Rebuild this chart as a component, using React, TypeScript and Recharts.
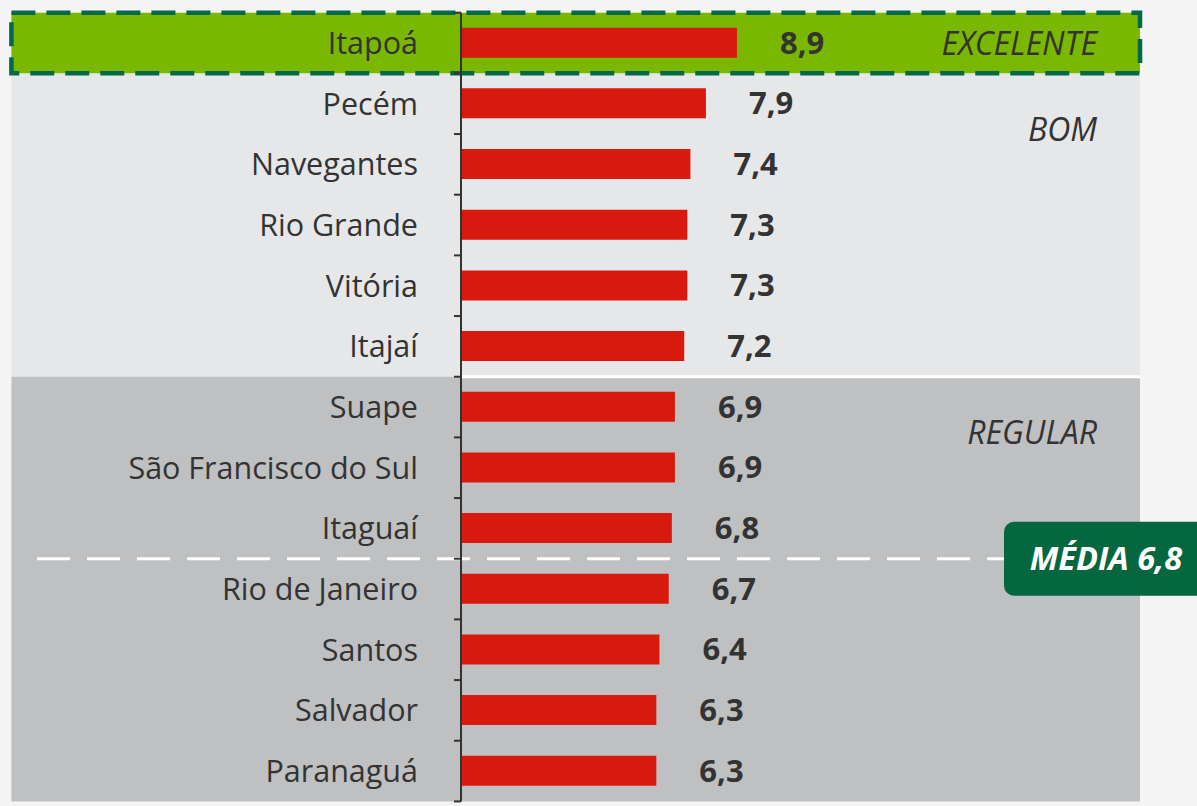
import React from 'react';
import {
  BarChart,
  Bar,
  XAxis,
  YAxis,
  ReferenceArea,
  ReferenceLine,
  LabelList,
} from 'recharts';

// portos e notas
const portos = [
  'Itapoá',
  'Pecém',
  'Navegantes',
  'Rio Grande',
  'Vitória',
  'Itajaí',
  'Suape',
  'São Francisco do Sul',
  'Itaguaí',
  'Rio de Janeiro',
  'Santos',
  'Salvador',
  'Paranaguá',
];
const notas = [8.9, 7.9, 7.4, 7.3, 7.3, 7.2, 6.9, 6.9, 6.8, 6.7, 6.4, 6.3, 6.3];

const faixas = ['BOM', 'REGULAR', 'EXCELENTE'];
const faixaInicio = ['Pecém', 'Suape', 'Itapoá'];
const faixaFim = ['Itajaí', 'Paranaguá', 'Itapoá'];

const media = 6.8;
const mediaDepoisDe = 'Itaguaí';

const data = portos.map((nome, i) => ({ nome, nota: notas[i] }));

// layout
const W = 1197;
const H = 806;
const TOP = 12.7;
const BOTTOM = 4.6;
const LEFT = 12;
const PLOT_LEFT = 461;
const PLOT_RIGHT = 1140;
const X_MAX = 21.9;
const PX = (PLOT_RIGHT - PLOT_LEFT) / X_MAX;
const toUnits = (px: number) => (px - PLOT_LEFT) / PX;
const ROW = (H - TOP - BOTTOM) / portos.length;
const TICK_GAP = 43;
const FONT = "'Open Sans', 'Noto Sans', sans-serif";
const TEXT = '#333333';

const faixaCor: Record<string, string> = {
  EXCELENTE: '#7ab800',
  BOM: '#e6e7e9',
  REGULAR: '#bfc0c2',
};
const faixaDy: Record<string, number> = {
  EXCELENTE: ROW / 2,
  BOM: 56,
  REGULAR: 56,
};

const CategoryTick = (props: any) => {
  const { x, y, payload, index } = props;
  const axisX = x + TICK_GAP;
  return (
    <g>
      <text
        x={x}
        y={y}
        dy="0.36em"
        textAnchor="end"
        fontSize={30.5}
        fontFamily={FONT}
        fill={TEXT}
      >
        {payload.value}
      </text>
      <line x1={axisX - 7} x2={axisX} y1={y - ROW / 2} y2={y - ROW / 2} stroke={TEXT} strokeWidth={2} />
      {index === portos.length - 1 && (
        <line x1={axisX - 7} x2={axisX} y1={y + ROW / 2} y2={y + ROW / 2} stroke={TEXT} strokeWidth={2} />
      )}
    </g>
  );
};

const BandLabel = (props: any) => {
  const { viewBox, text } = props;
  return (
    <text
      x={viewBox.x + viewBox.width - 43}
      y={viewBox.y + faixaDy[text]}
      dy="0.36em"
      textAnchor="end"
      fontStyle="italic"
      fontSize={32}
      fontFamily={FONT}
      fill={TEXT}
    >
      {text}
    </text>
  );
};

const MediaBadge = (props: any) => {
  const { viewBox } = props;
  const x = viewBox.x + viewBox.width;
  const y = viewBox.y;
  return (
    <g>
      <rect x={x} y={y - 37} width={230} height={74} rx={10} ry={10} fill="#05673f" />
      <text
        x={x + 102}
        y={y}
        dy="0.36em"
        textAnchor="middle"
        fontStyle="italic"
        fontWeight="bold"
        fontSize={32.5}
        fontFamily={FONT}
        fill="#ffffff"
      >
        {'MÉDIA ' + String(media).replace('.', ',')}
      </text>
    </g>
  );
};

export default function App() {
  return (
    <div style={{ position: 'absolute', left: 0, top: 0, width: W, height: H, background: '#f4f4f4' }}>
      <BarChart
        layout="vertical"
        width={W}
        height={H}
        data={data}
        margin={{ top: TOP, bottom: BOTTOM, left: LEFT, right: W - PLOT_RIGHT }}
        barSize={30}
      >
        {faixas.map((f, i) => (
          <ReferenceArea
            key={f}
            x1={toUnits(LEFT - 0.6)}
            y1={faixaInicio[i]}
            y2={faixaFim[i]}
            ifOverflow="visible"
            fill={faixaCor[f]}
            fillOpacity={1}
            stroke={f === 'EXCELENTE' ? '#03694a' : 'none'}
            strokeWidth={f === 'EXCELENTE' ? 4.5 : 0}
            strokeDasharray={f === 'EXCELENTE' ? '24 11' : undefined}
            label={<BandLabel text={f} />}
          />
        ))}
        <ReferenceLine
          y="Itajaí"
          position="end"
          segment={[
            { x: toUnits(LEFT), y: 'Itajaí' },
            { x: X_MAX, y: 'Itajaí' },
          ]}
          ifOverflow="visible"
          stroke="#ffffff"
          strokeWidth={3}
        />
        <XAxis type="number" domain={[0, X_MAX]} hide allowDataOverflow />
        <YAxis
          type="category"
          dataKey="nome"
          width={PLOT_LEFT - LEFT}
          interval={0}
          tickLine={false}
          tickSize={0}
          tickMargin={TICK_GAP}
          axisLine={{ stroke: TEXT, strokeWidth: 2 }}
          tick={<CategoryTick />}
        />
        <Bar dataKey="nota" fill="#d71a0d" isAnimationActive={false}>
          <LabelList
            dataKey="nota"
            position="right"
            offset={43}
            formatter={(v: any) => String(v).replace('.', ',')}
            fill={TEXT}
            fontSize={31}
            fontWeight="bold"
            fontFamily={FONT}
          />
        </Bar>
        <ReferenceLine
          position="end"
          segment={[
            { x: toUnits(37), y: mediaDepoisDe },
            { x: toUnits(1004), y: mediaDepoisDe },
          ]}
          ifOverflow="visible"
          stroke="#ffffff"
          strokeWidth={3}
          strokeDasharray="33 17"
          label={<MediaBadge />}
        />
      </BarChart>
    </div>
  );
}
